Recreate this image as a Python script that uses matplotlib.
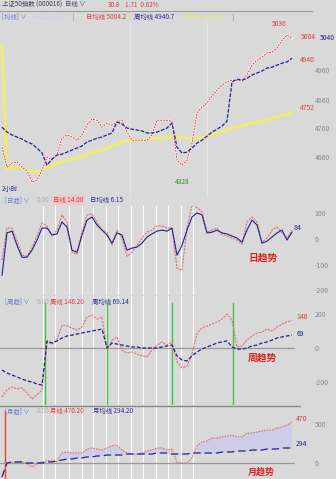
import matplotlib
matplotlib.use("Agg")
import matplotlib.pyplot as plt
import numpy as np

plt.rcParams['font.family'] = ['Noto Sans CJK SC', 'DejaVu Sans']

# ---------------- data ----------------
# main panel (index level)
price = [4694, 4625, 4639, 4643, 4625, 4612, 4574, 4580, 4615, 4660,
         4649, 4670, 4725, 4736, 4729, 4718, 4736, 4770, 4791, 4787,
         4763, 4777, 4770, 4781, 4787, 4746, 4718, 4718, 4718, 4718,
         4736, 4787, 4787, 4787, 4784, 4649, 4632, 4649, 4708, 4812,
         4832, 4846, 4870, 4891, 4908, 4919, 4925, 4925, 4922, 4943,
         4977, 4994, 5005, 5019, 5022, 5036, 5063, 5081, 5070]
week_avg = [4763, 4746, 4736, 4729, 4722, 4712, 4705, 4691, 4674, 4632,
            4653, 4667, 4670, 4677, 4684, 4691, 4698, 4712, 4718, 4725,
            4729, 4736, 4743, 4781, 4774, 4760, 4756, 4753, 4750, 4743,
            4743, 4746, 4753, 4760, 4777, 4694, 4674, 4677, 4691, 4708,
            4718, 4732, 4746, 4756, 4767, 4784, 4919, 4929, 4925, 4932,
            4943, 4950, 4957, 4967, 4970, 4977, 4984, 4988, 5001]
half_year = [5046, 4615, 4625, 4625, 4622, 4615, 4612, 4608, 4615, 4625,
             4632, 4639, 4643, 4649, 4653, 4656, 4663, 4670, 4677, 4681,
             4684, 4691, 4698, 4705, 4712, 4718, 4718, 4718, 4718, 4722,
             4725, 4725, 4725, 4729, 4729, 4729, 4729, 4725, 4725, 4725,
             4729, 4732, 4736, 4743, 4746, 4753, 4760, 4763, 4767, 4774,
             4777, 4781, 4784, 4787, 4794, 4798, 4805, 4808, 4815]
main_ticks = [4960, 4860, 4760, 4660]
main_tick_pos = [4960, 4857, 4760, 4660]

# daily trend panel
day_line = [-82, 43, 43, -4, -63, -67, -35, 12, 63, 51,
            12, 35, 94, 67, -51, -59, 27, 94, 98, 67,
            35, 27, -24, 35, 4, -67, -51, -24, 4, 27,
            35, 51, 51, 43, 43, -114, -122, 43, 133, 122,
            106, 27, 35, 43, 16, 12, 4, -4, -20, 67,
            86, 67, -12, 4, 35, 47, 24, 4, 35]
day_avg = [-141, 24, 31, -24, -71, -71, -43, -4, 43, 43,
           16, 20, 67, 47, -43, -51, 16, 74, 86, 55,
           35, 16, -16, 24, 16, -43, -35, -31, -16, 8,
           20, 31, 35, 31, 43, -63, -24, 35, 86, 102,
           94, 24, 27, 35, 24, 20, 12, 4, -12, 35,
           74, 55, -16, -8, 8, 24, 35, -4, 27]
day_ticks = [100, 0, -100, -200]

# weekly trend panel
week_line = [-284, -244, -226, -238, -232, -261, -296, -273, -244, 35,
             23, 46, 133, 128, 116, 104, 122, 180, 191, 168,
             180, -12, 46, 64, -12, -29, -23, -35, -46, -52,
             -12, 17, 35, 17, 35, -81, -116, -104, -35, 87,
             116, 128, 139, 151, 168, 197, 162, 6, 12, 46,
             70, 87, 93, 110, 99, 122, 139, 151, 162]
week_line_avg = [-128, -145, -157, -168, -180, -191, -197, -209, -215, 41,
                 29, 41, 58, 70, 75, 81, 87, 93, 99, 104,
                 110, 0, 29, 23, 17, 12, 6, 6, 0, 0,
                 0, 0, 6, 12, 17, -46, -70, -75, -46, -23,
                 -6, 6, 17, 29, 35, 41, 6, -6, -6, 0,
                 12, 17, 29, 35, 46, 58, 64, 70, 75]
week_ticks = [200, 0, -200]

# monthly trend panel
month_line = [-179, 0, 13, 13, 13, -13, -51, -13, 13, 26,
              38, 13, 128, 141, 128, 128, 128, 179, 192, 179,
              166, 192, 218, 230, 166, 128, 115, 115, 128, 154,
              166, 192, 192, 166, 179, 13, 0, 0, 64, 218,
              269, 282, 320, 320, 333, 346, 358, 333, 333, 384,
              384, 397, 410, 422, 422, 448, 461, 486, 525]
month_avg = [-179, 0, 13, 13, 13, 0, 0, 0, 0, 13,
             13, 26, 38, 51, 51, 64, 64, 77, 77, 90,
             90, 102, 102, 102, 102, 115, 115, 115, 115, 115,
             115, 128, 128, 128, 115, 115, 115, 115, 128, 128,
             128, 128, 128, 128, 141, 141, 141, 154, 154, 154,
             166, 166, 166, 179, 179, 179, 192, 192, 192]
month_ticks = [500, 0]

# time markers (bar index)
white_marks = [8.2, 10.6, 13.4, 16.0, 18.2, 20.8, 23.2, 25.8, 28.2, 30.8, 33.2, 35.8, 38.2]
green_marks = [8.5, 21.0, 34.0, 46.2]

# ---------------- figure ----------------
W, H = 336, 479
BG = '#d9d9d9'
fig = plt.figure(figsize=(W / 100, H / 100), dpi=100, facecolor=BG)

def add_ax(x0, y0, x1, y1):
    ax = fig.add_axes([x0 / W, 1 - y1 / H, (x1 - x0) / W, (y1 - y0) / H])
    ax.set_facecolor(BG)
    for s in ax.spines.values():
        s.set_visible(False)
    ax.set_xticks([])
    ax.yaxis.tick_right()
    ax.tick_params(axis='y', length=0, pad=14, labelsize=5, labelcolor='#8a8a8a')
    return ax

def ftext(x, y, s, color, size=5, **kw):
    fig.text(x / W, 1 - y / H, s, color=color, fontsize=size, va='center', ha='left', **kw)

n = len(price)
idx = np.arange(n)
XL = (-0.4, 58.6)

NAVY = '#22228a'
RED = '#e03a3a'

# ---- header ----
ftext(2, 5, "上证50指数 (000016)  日线 ∨", '#404060', 4.6)
ftext(108, 5, "30.8", RED, 4.6)
ftext(125, 5, "1.71  0.62%", RED, 4.6)
fig.add_artist(plt.Line2D([0, 312 / W], [1 - 11 / H, 1 - 11 / H], color='#9a9a9a', lw=0.8))
ftext(2, 17, "[均线] ∨", '#6a7ad0', 4.6)
ftext(32, 17, "MA5 5028.4", '#c8ccea', 4.6)
ftext(72, 17, "|", '#6a7ad0', 4.6)
ftext(86, 17, "日均线 5004.2", RED, 4.6)
ftext(134, 17, "周均线 4940.7", '#2a2aa0', 4.6)
ftext(186, 17, "半年线 4752.0", '#e8e860', 4.6)
ftext(232, 17, "]", '#888888', 4.6)

# ---- main panel ----
ax1 = add_ax(0, 22, 295, 197)
ax1.set_xlim(*XL)
ax1.set_ylim(4522, 5126)
for xm in [25.6, 41.0]:
    ax1.axvline(xm, color='#e4e4e4', lw=0.8, zorder=0)
ax1.plot(idx, half_year, color='#f0ee5a', lw=1.8, zorder=2)
ax1.plot(idx, price, color='white', lw=1.3, zorder=3)
ax1.plot(idx, price, color=RED, lw=0.7, dashes=(2, 1), zorder=4)
ax1.plot(idx, week_avg, color=NAVY, lw=0.9, dashes=(3, 1.2), zorder=4)
ax1.set_yticks(main_tick_pos)
ax1.set_yticklabels([str(t) for t in main_ticks])
imax = int(np.argmax(price))
imin = int(np.argmin(price[30:])) + 30
ax1.annotate(str(5036), xy=(imax, price[imax]), xytext=(-6, 5), textcoords='offset points',
             color=RED, fontsize=4.8, ha='center', va='bottom')
ax1.annotate(str(4328), xy=(imin, price[imin]), xytext=(0, -9), textcoords='offset points',
             color='#2a8a2a', fontsize=4.8, ha='center', va='top')
ax1.annotate("5004", xy=(n - 1, price[-1]), xytext=(6, 1), textcoords='offset points',
             color=RED, fontsize=4.8, ha='left', va='center', annotation_clip=False)
ax1.annotate("5040", xy=(n - 1, price[-1]), xytext=(20, 0), textcoords='offset points',
             color=NAVY, fontsize=4.8, ha='left', va='center', annotation_clip=False)
ax1.annotate("4940", xy=(n - 1, week_avg[-1]), xytext=(6, -1), textcoords='offset points',
             color=RED, fontsize=4.8, ha='left', va='center', annotation_clip=False)
ax1.annotate("4752", xy=(n - 1, half_year[-1]), xytext=(6, 3), textcoords='offset points',
             color=RED, fontsize=4.8, ha='left', va='center', annotation_clip=False)
ftext(2, 189, "2小时", '#2a2aa0', 4.6)

# ---- daily trend panel ----
ftext(5, 200, "[日趋] ∨", '#6a7ad0', 4.6)
ftext(37, 200, "0.00", '#b0b0b0', 4.6)
ftext(53, 200, "日线 14.00", RED, 4.6, bbox=dict(boxstyle='square,pad=0.1', fc='#f0c8c8', ec='none'))
ftext(90, 200, "日均线 6.15", '#2a2aa0', 4.6)
ax2 = add_ax(0, 206, 295, 295)
ax2.set_xlim(*XL)
ax2.set_ylim(-218, 129)
for xm in white_marks:
    ax2.axvline(xm, color='white', lw=0.8, zorder=0)
ax2.plot(idx, day_line, color='#e07070', lw=0.8, dashes=(2, 1), zorder=3)
ax2.plot(idx, day_avg, color=NAVY, lw=0.8, zorder=4)
ax2.set_yticks(day_ticks)
ax2.set_yticklabels([str(t) for t in day_ticks])
ax2.annotate("84", xy=(n - 1, day_avg[-1]), xytext=(1, 3), textcoords='offset points',
             color=NAVY, fontsize=5, ha='left', va='center', annotation_clip=False)
ftext(248, 258, "日趋势", '#e02020', 7, fontweight='bold')

# ---- weekly trend panel ----
ftext(5, 302, "[周趋] ∨", '#6a7ad0', 4.6)
ftext(37, 302, "0.00", '#b0b0b0', 4.6)
ftext(50, 302, "周线 146.20", RED, 4.6)
ftext(92, 302, "周均线 69.14", '#2a2aa0', 4.6)
ax3 = add_ax(0, 296, 295, 405)
ax3.set_xlim(*XL)
ax3.set_ylim(-331, 302)
for xm in white_marks:
    ax3.axvline(xm, color='white', lw=0.8, zorder=0)
for xm in green_marks:
    ax3.axvline(xm, ymax=0.94, color='#3cc83c', lw=1.0, zorder=1)
ax3.axhline(0, color='#9a9a9a', lw=0.9, zorder=1)
ax3.plot(idx, week_line, color='#e07070', lw=0.8, dashes=(2, 1), zorder=3)
ax3.plot(idx, week_line_avg, color=NAVY, lw=0.9, dashes=(3, 1.5), zorder=4)
ax3.set_yticks(week_ticks)
ax3.set_yticklabels([str(t) for t in week_ticks])
ax3.annotate("146", xy=(n - 1, week_line[-1]), xytext=(3, 2), textcoords='offset points',
             color=RED, fontsize=5, ha='left', va='center', annotation_clip=False)
ax3.annotate("69", xy=(n - 1, week_line_avg[-1]), xytext=(3, 1), textcoords='offset points',
             color=NAVY, fontsize=5, ha='left', va='center', annotation_clip=False)
ftext(248, 358, "周趋势", '#e02020', 7, fontweight='bold')
fig.add_artist(plt.Line2D([0, 300 / W], [1 - 405.5 / H, 1 - 405.5 / H], color='#8a8a8a', lw=1.0))

# ---- monthly trend panel ----
ftext(5, 411, "[月趋] ∨", '#6a7ad0', 4.6)
ftext(37, 411, "0.00", '#b0b0b0', 4.6)
ftext(50, 411, "月线 470.20", RED, 4.6)
ftext(93, 411, "月均线 294.20", '#2a2aa0', 4.6)
ax4 = add_ax(0, 406, 295, 479)
ax4.set_xlim(*XL)
ax4.set_ylim(-205, 730)
for xm in white_marks:
    ax4.axvline(xm, color='white', lw=0.8, zorder=0)
ax4.axvline(0.6, ymax=0.93, color='#f04040', lw=1.0, zorder=1)
ax4.axhline(0, color='#9a9a9a', lw=0.9, zorder=1)
ml = np.array(month_line)
ma = np.array(month_avg)
ax4.fill_between(idx, ml, ma, where=ml > ma, color='#c8c8f0', alpha=0.7, lw=0, zorder=2)
ax4.plot(idx, month_line, color='#e07070', lw=0.8, dashes=(1.5, 1), zorder=3)
ax4.plot(idx, month_avg, color=NAVY, lw=0.9, dashes=(6, 3), zorder=4)
ax4.set_yticks(month_ticks)
ax4.set_yticklabels([str(t) for t in month_ticks])
ax4.annotate("470", xy=(n - 1, month_line[-1]), xytext=(3, 2), textcoords='offset points',
             color=RED, fontsize=5, ha='left', va='center', annotation_clip=False)
ax4.annotate("294", xy=(n - 1, month_avg[-1]), xytext=(3, 3), textcoords='offset points',
             color=NAVY, fontsize=5, ha='left', va='center', annotation_clip=False)
ftext(248, 472, "月趋势", '#e02020', 6.5, fontweight='bold')

fig.savefig("out.png", dpi=100, facecolor=BG)
